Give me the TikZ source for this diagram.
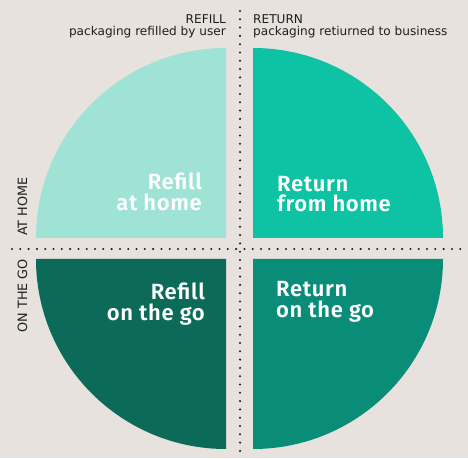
\documentclass[tikz,border=0pt]{standalone}
\usepackage{fontspec}
\setmainfont{DejaVu Sans}
\newfontfamily\quadfont{Fira Sans}[BoldFont={* SemiBold},LetterSpace=3]
\definecolor{bgcol}{HTML}{E7E2DD}
\definecolor{refillhome}{HTML}{9FE3D7}
\definecolor{returnhome}{HTML}{0EC3A3}
\definecolor{refillgo}{HTML}{0B6A58}
\definecolor{returngo}{HTML}{0A8D78}
\definecolor{inkcol}{HTML}{1E1E1E}
\begin{document}
\begin{tikzpicture}[x=1pt,y=1pt,
  caption/.style={inner sep=0pt,text=inkcol,font=\fontsize{12.1}{14}\selectfont},
  axislabel/.style={inner sep=0pt,text=inkcol,rotate=90,font=\fontsize{12.8}{15}\selectfont},
  quadlabel/.style={inner sep=0pt,text=white,font=\quadfont\bfseries\fontsize{22}{24}\selectfont},
  dotline/.style={line width=2.3pt,line cap=round,dash pattern=on 0pt off 8.3pt,inkcol}]
  \fill[bgcol] (0,0) rectangle (468,458);
  \useasboundingbox (0,0) rectangle (468,458);
  % quarter discs
  \fill[refillhome] (226,220) -- ++(-190,0) arc[start angle=180,end angle=90,radius=190] -- cycle;
  \fill[returnhome] (253,220) -- ++(0,190) arc[start angle=90,end angle=0,radius=190] -- cycle;
  \fill[refillgo] (226,199) -- ++(-190,0) arc[start angle=180,end angle=270,radius=190] -- cycle;
  \fill[returngo] (253,199) -- ++(190,0) arc[start angle=0,end angle=-90,radius=190] -- cycle;
  % dotted axes
  \coordinate (vtop) at (240,447);
  \coordinate (vbot) at (240,0);
  \coordinate (hleft) at (12,209);
  \coordinate (hright) at (468,209);
  \draw[dotline] (vtop) -- (vbot);
  \draw[dotline] (hleft) -- (hright);
  % column captions
  \node[caption,anchor=base east] (refillcap) at (226,434) {REFILL};
  \node[caption,anchor=base east] (refillsub) at (226,422) {packaging refilled by user};
  \node[caption,anchor=base west] (returncap) at (253,434) {RETURN};
  \node[caption,anchor=base west] (returnsub) at (253,422) {packaging retiurned to business};
  % row captions
  \node[axislabel,anchor=base west] (athome) at (27,222) {AT HOME};
  \node[axislabel,anchor=base east] (onthego) at (27,199) {ON THE GO};
  % quadrant labels
  \node[quadlabel,anchor=base east] (rh1) at (202,268) {Refill};
  \node[quadlabel,anchor=base east] (rh2) at (202,247) {at home};
  \node[quadlabel,anchor=base west] (th1) at (277,266) {Return};
  \node[quadlabel,anchor=base west] (th2) at (277,246) {from home};
  \node[quadlabel,anchor=base east] (rg1) at (205,158) {Refill};
  \node[quadlabel,anchor=base east] (rg2) at (205,138) {on the go};
  \node[quadlabel,anchor=base west] (tg1) at (276,161) {Return};
  \node[quadlabel,anchor=base west] (tg2) at (276,141) {on the go};
\end{tikzpicture}
\end{document}
